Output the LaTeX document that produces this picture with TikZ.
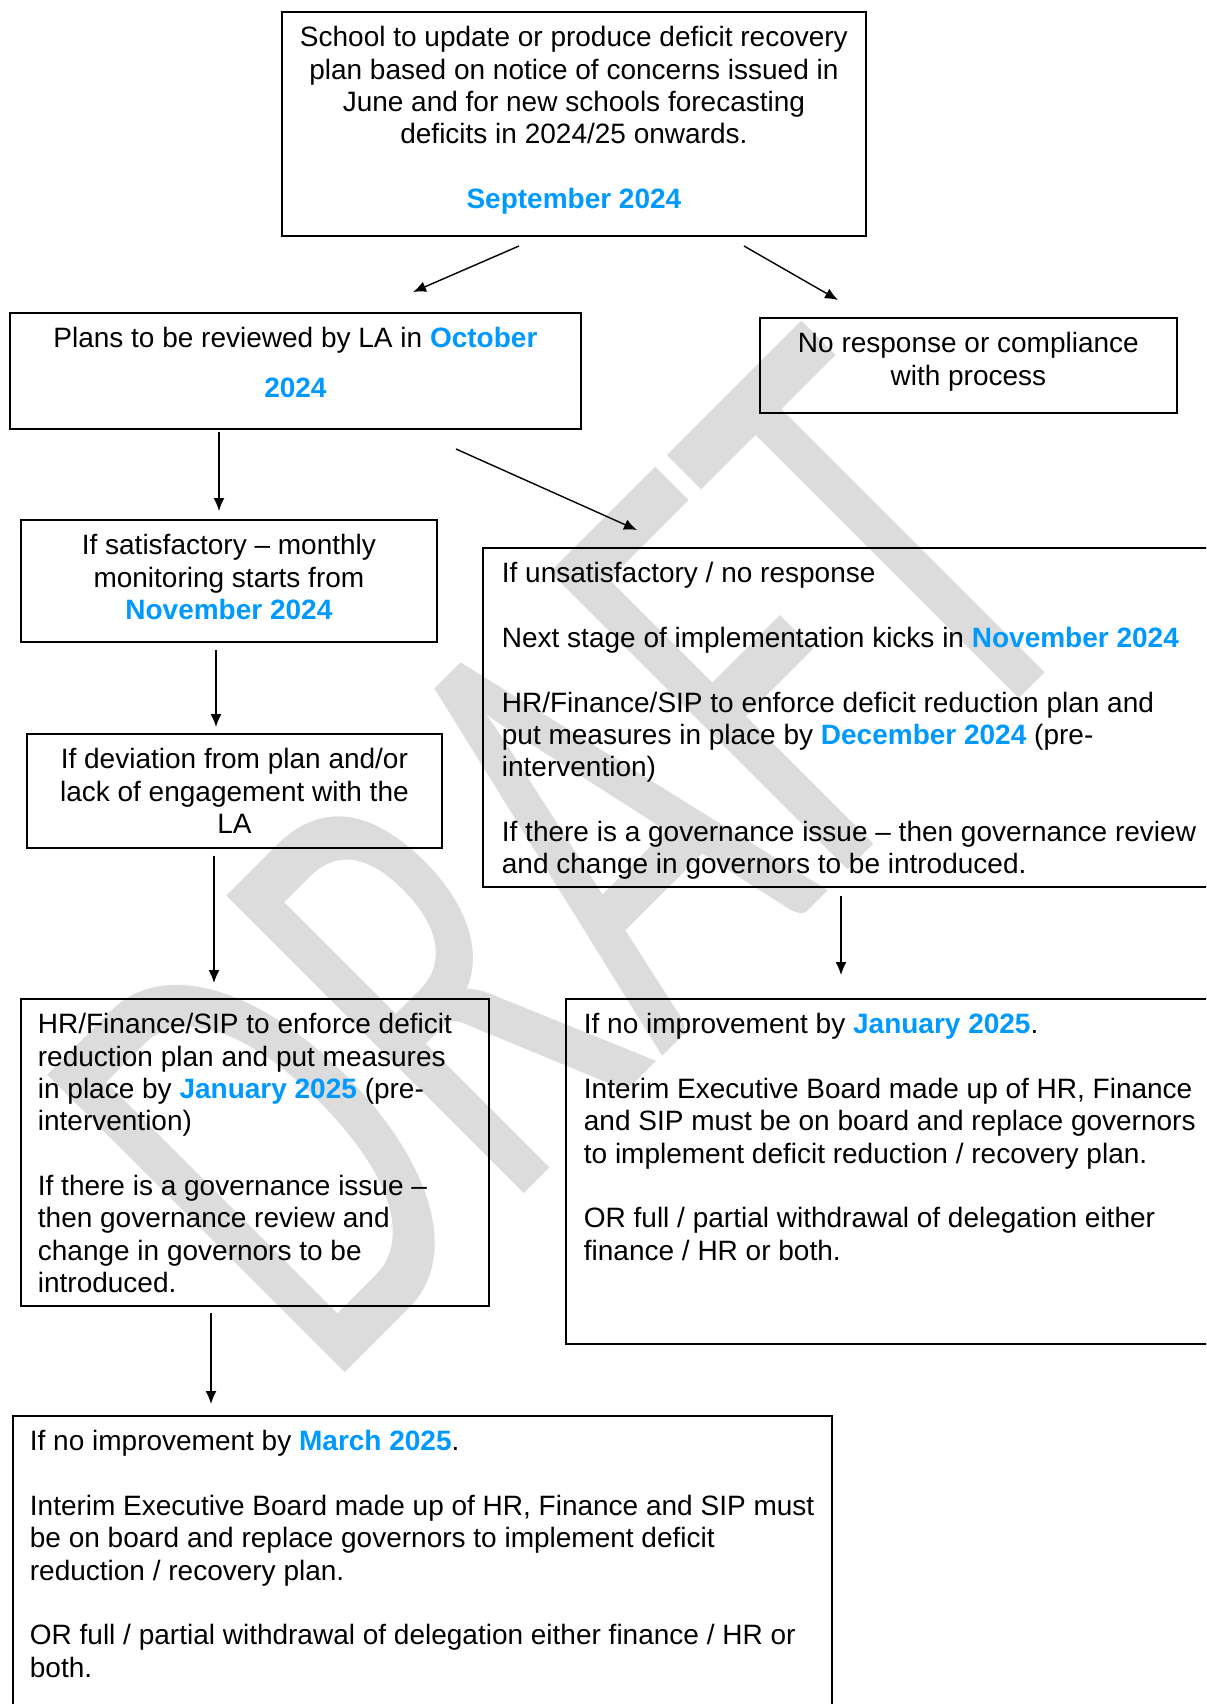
\documentclass[tikz,border=0pt]{standalone}
\usepackage{fontspec}
\setmainfont{Liberation Sans}
\newfontfamily\wmfont{Carlito}
\usetikzlibrary{arrows.meta, positioning}
\definecolor{datecol}{RGB}{0,153,255}
\definecolor{wmgrey}{RGB}{220,220,220}
\newcommand{\datetxt}[1]{\textbf{\textcolor{datecol}{#1}}}
\tikzset{
  box/.style={draw, line width=0.9pt, inner ysep=0pt, text height=17.5pt, anchor=north west,
    font=\fontsize{14}{16.15}\selectfont},
  cbox/.style={box, align=flush center, inner xsep=4pt},
  lbox/.style={box, align=flush left},
  arr/.style={-{Latex[length=6.5pt,width=5.5pt]}, line width=0.7pt},
}

\begin{document}
\begin{tikzpicture}[x=0.5pt, y=-0.5pt]
\useasboundingbox (0,0) rectangle (1206,1704);
\clip (0,0) rectangle (1206,1704);

% watermark
\node[anchor=base west, inner sep=0pt, rotate=45, yscale=1.6, text=wmgrey,
      font=\wmfont\fontsize{205}{205}\selectfont] (wm) at (325,1393) {DRAFT};

% boxes
\node[cbox, text width=284pt, text depth=94.5pt] (top) at (281,11)
  {School to update or produce deficit recovery\\ plan based on notice of concerns issued in\\ June and for new schools forecasting\\ deficits in 2024/25 onwards.\\[\baselineskip] \datetxt{September 2024}};
\node[cbox, text width=277.5pt, text depth=40.5pt] (plans) at (9,312)
  {Plans to be reviewed by LA in \datetxt{October}\\[8.5pt] \datetxt{2024}};
\node[cbox, text width=200.5pt, text depth=30pt] (nores) at (759,317)
  {No response or compliance\\ with process};
\node[cbox, text width=200pt, text depth=43.5pt] (sat) at (20,519)
  {If satisfactory -- monthly\\ monitoring starts from\\ \datetxt{November 2024}};
\node[cbox, text width=199.5pt, text depth=39.5pt] (dev) at (26,733)
  {If deviation from plan and/or\\ lack of engagement with the\\ LA};
\node[lbox, inner xsep=9.5pt, text width=360pt, text depth=152pt] (unsat) at (482,547)
  {If unsatisfactory / no response\\[\baselineskip]
   Next stage of implementation kicks in \datetxt{November 2024}\\[\baselineskip]
   HR/Finance/SIP to enforce deficit reduction plan and\\ put measures in place by \datetxt{December 2024} (pre-\\ intervention)\\[\baselineskip]
   If there is a governance issue -- then governance review\\ and change in governors to be introduced.};
\node[lbox, inner xsep=8.5pt, text width=217pt, text depth=136pt] (hrl) at (20,998)
  {HR/Finance/SIP to enforce deficit\\ reduction plan and put measures\\ in place by \datetxt{January 2025} (pre-\\ intervention)\\[\baselineskip]
   If there is a governance issue --\\ then governance review and\\ change in governors to be\\ introduced.};
\node[lbox, inner xsep=9pt, text width=330pt, text depth=155pt] (jan) at (565,998)
  {If no improvement by \datetxt{January 2025}.\\[\baselineskip]
   Interim Executive Board made up of HR, Finance\\ and SIP must be on board and replace governors\\ to implement deficit reduction / recovery plan.\\[\baselineskip]
   OR full / partial withdrawal of delegation either\\ finance / HR or both.};
\node[lbox, inner xsep=8.5pt, text width=392.5pt, text depth=142.5pt] (mar) at (12,1415)
  {If no improvement by \datetxt{March 2025}.\\[\baselineskip]
   \mbox{Interim Executive Board made up of HR, Finance and SIP must}\\ be on board and replace governors to implement deficit\\ reduction / recovery plan.\\[\baselineskip]
   OR full / partial withdrawal of delegation either finance / HR or\\ both.};

% arrows
\coordinate (t1) at (519,246);
\coordinate (p1) at (413,292);
\coordinate (t2) at (744,246);
\coordinate (n2) at (838,300);
\coordinate (p4) at (456,449);
\coordinate (u4) at (637,530);
\coordinate (x3) at (219,0);
\coordinate (x5) at (216,0);
\coordinate (x6) at (214,0);
\coordinate (x7) at (841,0);
\coordinate (x8) at (211,0);
\draw[arr] (t1) -- (p1);
\draw[arr] (t2) -- (n2);
\draw[arr] (p4) -- (u4);
\draw[arr, shorten <=1pt, shorten >=4pt] (plans.south -| x3) -- (sat.north -| x3);
\draw[arr, shorten <=3.5pt, shorten >=3pt] (sat.south -| x5) -- (dev.north -| x5);
\draw[arr, shorten <=3.5pt, shorten >=7.5pt] (dev.south -| x6) -- (hrl.north -| x6);
\draw[arr, shorten <=4pt, shorten >=11.5pt] (unsat.south -| x7) -- (jan.north -| x7);
\draw[arr, shorten <=3pt, shorten >=5.5pt] (hrl.south -| x8) -- (mar.north -| x8);
\end{tikzpicture}
\end{document}
